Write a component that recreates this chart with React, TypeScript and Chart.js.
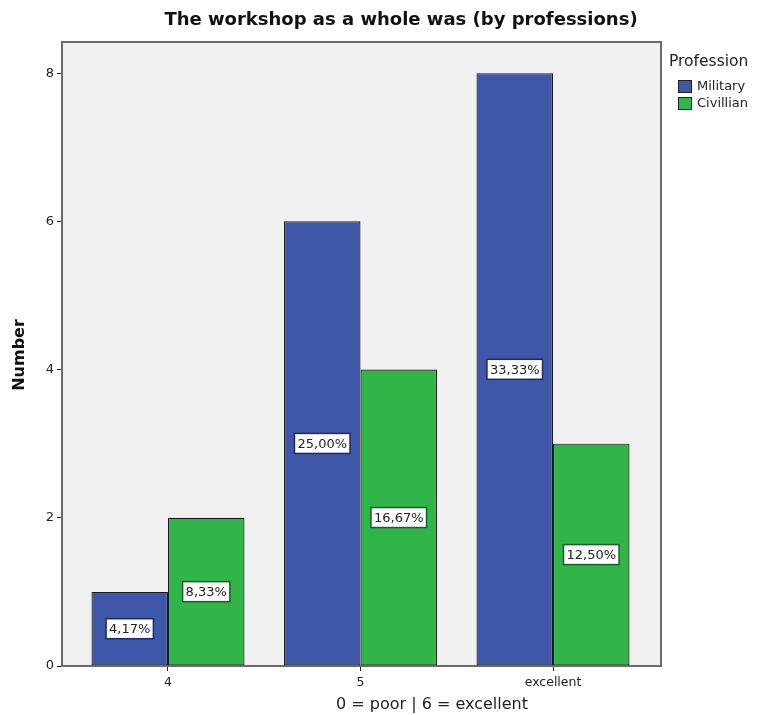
import React, { useEffect, useRef } from "react";
import { Chart, registerables } from "chart.js";

Chart.register(...registerables);

const categories = ["4", "5", "excellent"];
const militaryValues = [1, 6, 8];
const civilianValues = [2, 4, 3];
const militaryLabels = ["4,17%", "25,00%", "33,33%"];
const civilianLabels = ["8,33%", "16,67%", "12,50%"];
const yTicks = [0, 2, 4, 6, 8];
const seriesNames = ["Military", "Civillian"];
const titleText = "The workshop as a whole was (by professions)";
const xTitle = "0 = poor | 6 = excellent";
const yTitle = "Number";
const legendTitle = "Profession";

const BLUE = "#3e57a9";
const GREEN = "#30b548";
const FONT = "'DejaVu Sans', sans-serif";

const overlay = {
  id: "overlay",
  beforeDatasetsDraw(chart: any) {
    const { ctx, chartArea: a } = chart;
    ctx.save();
    ctx.fillStyle = "#f0f0f0";
    ctx.fillRect(a.left, a.top, a.right - a.left, a.bottom - a.top);
    ctx.restore();
  },
  afterDatasetsDraw(chart: any) {
    const { ctx, chartArea: a } = chart;
    ctx.save();
    // frame
    ctx.strokeStyle = "#6a6a6a";
    ctx.lineWidth = 2;
    ctx.strokeRect(a.left, a.top, a.right - a.left, a.bottom - a.top);

    // value labels
    const labelSets = [militaryLabels, civilianLabels];
    const borders = ["#1d2b66", "#1f5a2a"];
    ctx.font = `13px ${FONT}`;
    ctx.textAlign = "center";
    ctx.textBaseline = "middle";
    chart.data.datasets.forEach((ds: any, di: number) => {
      const meta = chart.getDatasetMeta(di);
      meta.data.forEach((bar: any, i: number) => {
        const txt = labelSets[di][i];
        const cx = bar.x;
        const cy = (bar.y + bar.base) / 2;
        const w = ctx.measureText(txt).width + 6;
        const h = 20;
        ctx.fillStyle = "#ffffff";
        ctx.fillRect(cx - w / 2, cy - h / 2, w, h);
        ctx.strokeStyle = borders[di];
        ctx.lineWidth = 1.5;
        ctx.strokeRect(cx - w / 2, cy - h / 2, w, h);
        ctx.fillStyle = "#222";
        ctx.fillText(txt, cx, cy + 1);
      });
    });

    // title
    ctx.fillStyle = "#111";
    ctx.font = `bold 18px ${FONT}`;
    ctx.textAlign = "center";
    ctx.textBaseline = "middle";
    ctx.fillText(titleText, 401, 20);

    // x title
    ctx.fillStyle = "#222";
    ctx.font = `16px ${FONT}`;
    ctx.fillText(xTitle, 432, 705);

    // y title
    ctx.save();
    ctx.translate(20, 355);
    ctx.rotate(-Math.PI / 2);
    ctx.font = `bold 16px ${FONT}`;
    ctx.fillStyle = "#111";
    ctx.fillText(yTitle, 0, 0);
    ctx.restore();

    // legend
    ctx.textAlign = "left";
    ctx.fillStyle = "#222";
    ctx.font = `15.5px ${FONT}`;
    ctx.fillText(legendTitle, 669, 62);
    const colors = [BLUE, GREEN];
    ctx.font = `13px ${FONT}`;
    seriesNames.forEach((n, i) => {
      const y = 80 + i * 17;
      ctx.fillStyle = colors[i];
      ctx.fillRect(678, y, 14, 13);
      ctx.strokeStyle = "#222";
      ctx.lineWidth = 1;
      ctx.strokeRect(678.5, y + 0.5, 13, 12);
      ctx.fillStyle = "#222";
      ctx.fillText(n, 697, y + 7);
    });
    ctx.restore();
  },
};

export default function App() {
  const ref = useRef<HTMLCanvasElement>(null);
  useEffect(() => {
    if (!ref.current) return;
    const mk = (vals: number[]) => vals.map((v, i) => ({ x: i, y: v }));
    const chart = new Chart(ref.current, {
      type: "bar",
      data: {
        datasets: [
          {
            label: seriesNames[0],
            data: mk(militaryValues),
            backgroundColor: BLUE,
            borderColor: "#1a1a1a",
            borderWidth: 1.2,
            borderSkipped: false,
            categoryPercentage: 0.795,
            barPercentage: 1,
          },
          {
            label: seriesNames[1],
            data: mk(civilianValues),
            backgroundColor: GREEN,
            borderColor: "#1a1a1a",
            borderWidth: 1.2,
            borderSkipped: false,
            categoryPercentage: 0.795,
            barPercentage: 1,
          },
        ],
      },
      options: {
        animation: false,
        responsive: false,
        layout: { padding: { top: 42, right: 104, left: 0, bottom: 0 } },
        plugins: {
          legend: { display: false },
          title: { display: false },
          tooltip: { enabled: false },
        },
        scales: {
          x: {
            type: "linear",
            min: -0.5506,
            max: 2.561,
            offset: false,
            afterBuildTicks: (s: any) => {
              s.ticks = categories.map((_, i) => ({ value: i }));
            },
            afterFit: (s: any) => {
              s.height = 49;
            },
            ticks: {
              callback: (v: any) => categories[v] ?? "",
              font: { family: FONT, size: 12.5 },
              color: "#222",
              padding: 4,
              maxRotation: 0,
              autoSkip: false,
            },
            grid: {
              offset: false,
              drawOnChartArea: false,
              drawTicks: true,
              tickLength: 5,
              color: "#222",
            },
            border: { display: true, color: "#222", width: 1 },
          },
          y: {
            min: 0,
            max: 8.42,
            afterBuildTicks: (s: any) => {
              s.ticks = yTicks.map((v) => ({ value: v }));
            },
            afterFit: (s: any) => {
              s.width = 62;
            },
            ticks: {
              font: { family: FONT, size: 13 },
              color: "#222",
              padding: 3,
            },
            grid: {
              drawOnChartArea: false,
              drawTicks: true,
              tickLength: 5,
              color: "#222",
            },
            border: { display: true, color: "#222", width: 1 },
          },
        },
      },
      plugins: [overlay],
    } as any);
    return () => chart.destroy();
  }, []);
  return (
    <div style={{ position: "absolute", left: 0, top: 0, width: 765, height: 715, background: "#fff" }}>
      <canvas ref={ref} width={765} height={715} style={{ display: "block" }} />
    </div>
  );
}
